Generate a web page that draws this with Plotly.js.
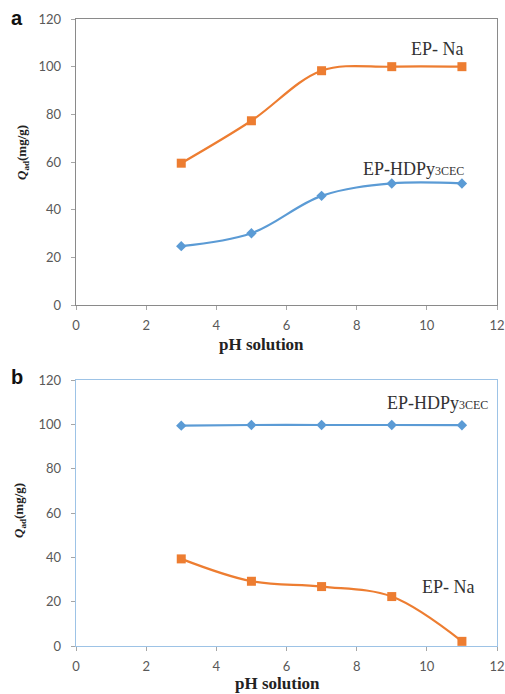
<!DOCTYPE html>
<html>
<head>
<meta charset="utf-8">
<script src="https://cdn.plot.ly/plotly-3.0.1.min.js"></script>
<style>html,body{margin:0;padding:0;background:#fff;}#chart{width:505px;height:694px;}</style>
</head>
<body>
<div id="chart"></div>
<script>
// Data
const pH = [3, 5, 7, 9, 11];
const naA = [59.5, 77.3, 98.3, 100, 100];
const hdpyA = [24.7, 30.1, 45.8, 51, 51];
const naB = [39.3, 29.2, 26.8, 22.3, 2.1];
const hdpyB = [99.4, 99.7, 99.7, 99.7, 99.6];
const xTicks = [0, 2, 4, 6, 8, 10, 12];
const yTicks = [0, 20, 40, 60, 80, 100, 120];
const xTitle = 'pH solution';
const yTitle = '<i>Q</i><sub>ad</sub>(mg/g)';

const orange = '#ED7D31';
const blue = '#5B9BD5';
const serif = 'Liberation Serif, Times New Roman, serif';
const tickFont = {family: 'Lato, Liberation Sans, sans-serif', size: 13, color: '#595959'};

function naTrace(y, xa, ya) {
  return {x: pH, y: y, xaxis: xa, yaxis: ya, type: 'scatter', mode: 'lines+markers', name: 'EP- Na',
    line: {color: orange, width: 2.2, shape: 'spline', smoothing: 1},
    marker: {symbol: 'square', size: 9, color: orange}};
}
function hdTrace(y, xa, ya) {
  return {x: pH, y: y, xaxis: xa, yaxis: ya, type: 'scatter', mode: 'lines+markers', name: 'EP-HDPy3CEC',
    line: {color: blue, width: 2.2, shape: 'spline', smoothing: 1},
    marker: {symbol: 'diamond', size: 8, color: blue}};
}

const traces = [
  naTrace(naA, 'x', 'y'), hdTrace(hdpyA, 'x', 'y'),
  naTrace(naB, 'x2', 'y2'), hdTrace(hdpyB, 'x2', 'y2')
];

function xax(anchor, lineColor) {
  return {
    domain: [76/505, 497/505], anchor: anchor, range: [0, 12], tickvals: xTicks,
    showgrid: false, zeroline: false, showline: true, mirror: true, linecolor: lineColor, linewidth: 1.3,
    ticks: 'outside', ticklen: 4, tickcolor: '#a6a6a6', tickfont: tickFont, ticklabelstandoff: 4,
    automargin: false
  };
}
function yax(domain, anchor, lineColor) {
  return {
    domain: domain, anchor: anchor, range: [0, 120], tickvals: yTicks,
    showgrid: false, zeroline: false, showline: true, mirror: true, linecolor: lineColor, linewidth: 1.3,
    ticks: 'outside', ticklen: 4, tickcolor: '#a6a6a6', tickfont: tickFont, ticklabelstandoff: 7,
    automargin: false
  };
}

const annFont = {family: serif, size: 18, color: '#333'};
const titleFont = {family: serif, size: 17, color: '#222'};
const yTitleFont = {family: serif, size: 13, color: '#222'};
const sub = "<span style='font-size:12px'>3CEC</span>";
function paper(px, py, extra) {
  return Object.assign({x: px/505, y: 1 - py/694, xref: 'paper', yref: 'paper', showarrow: false,
    xanchor: 'center', yanchor: 'middle'}, extra);
}

const layout = {
  width: 505, height: 694,
  margin: {l: 0, r: 0, t: 0, b: 0},
  paper_bgcolor: '#fff', plot_bgcolor: '#fff',
  showlegend: false,
  xaxis: xax('y', '#8a8a8a'),
  yaxis: yax([(694-305)/694, (694-19)/694], 'x', '#8a8a8a'),
  xaxis2: xax('y2', '#9DC3E6'),
  yaxis2: yax([(694-646)/694, (694-380)/694], 'x2', '#9DC3E6'),
  annotations: [
    {text: 'EP- Na', x: 10.3, y: 107.5, xref: 'x', yref: 'y', showarrow: false, font: annFont},
    {text: 'EP-HDPy' + sub, x: 9.62, y: 57, xref: 'x', yref: 'y', showarrow: false, font: annFont},
    {text: 'EP-HDPy' + sub, x: 10.3, y: 109.5, xref: 'x2', yref: 'y2', showarrow: false, font: annFont},
    {text: 'EP- Na', x: 10.62, y: 26.6, xref: 'x2', yref: 'y2', showarrow: false, font: annFont},
    paper(261, 345, {text: '<b>' + xTitle + '</b>', font: titleFont}),
    paper(277, 694, {text: '<b>' + xTitle + '</b>', font: titleFont, yanchor: 'bottom', borderpad: 0}),
    paper(22, 153, {text: '<b>' + yTitle + '</b>', font: yTitleFont, textangle: -90}),
    paper(19, 511, {text: '<b>' + yTitle + '</b>', font: yTitleFont, textangle: -90}),
    paper(17, 18, {text: '<b>a</b>', font: {family: 'Liberation Sans, Arial, sans-serif', size: 20, color: '#111'}}),
    paper(17, 377, {text: '<b>b</b>', font: {family: 'Liberation Sans, Arial, sans-serif', size: 20, color: '#111'}})
  ]
};

Plotly.newPlot('chart', traces, layout, {displayModeBar: false, staticPlot: true});
</script>
</body>
</html>
